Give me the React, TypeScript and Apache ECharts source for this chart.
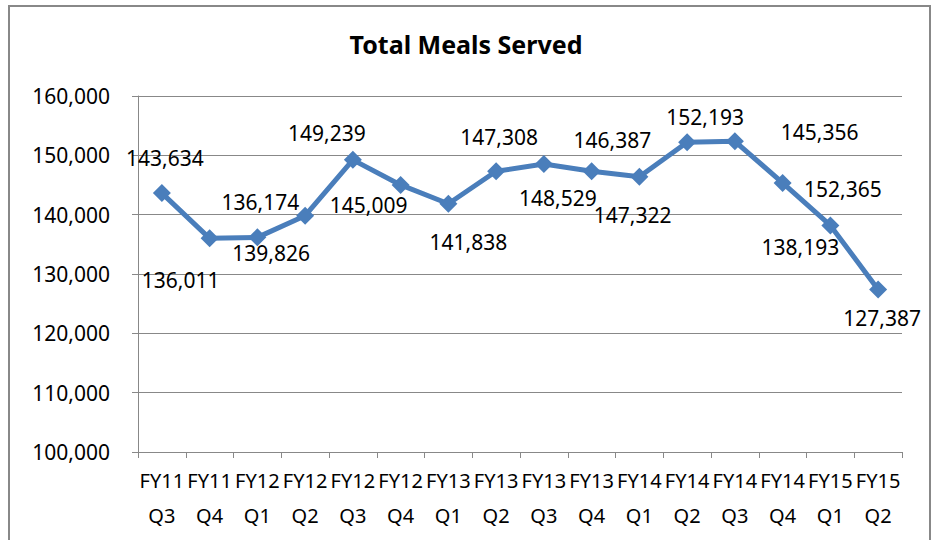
import React, { useEffect, useRef } from "react";
import * as echarts from "echarts";

const chartTitle = "Total Meals Served";
const categories = [
  "FY11 Q3", "FY11 Q4", "FY12 Q1", "FY12 Q2", "FY12 Q3", "FY12 Q4", "FY13 Q1", "FY13 Q2",
  "FY13 Q3", "FY13 Q4", "FY14 Q1", "FY14 Q2", "FY14 Q3", "FY14 Q4", "FY15 Q1", "FY15 Q2",
];
const mealsServed = [
  143634, 136011, 136174, 139826, 149239, 145009, 141838, 147308,
  148529, 147322, 146387, 152193, 152365, 145356, 138193, 127387,
];
const yMin = 100000;
const yMax = 160000;
const yStep = 10000;

// label offsets (style only) relative to each point, as placed in the reference
const labelOffsets: [number, number][] = [
  [3, -35], [-29, 42], [3, -35], [-34, 37], [-26, -27], [-32, 20], [20, 38], [3, -34],
  [14, 34], [41, 44], [-27, -37], [18, -25], [108, 48], [37, -51], [-30, 22], [4, 28],
];

const FONT = "'Noto Sans', sans-serif";
const GRAY = "#888888";
const BLUE = "#4A7EBB";

export default function App() {
  const ref = useRef<HTMLDivElement>(null);
  useEffect(() => {
    if (!ref.current) return;
    const chart = echarts.init(ref.current, null, { renderer: "svg" });
    chart.setOption({
      animation: false,
      backgroundColor: "#ffffff",
      textStyle: { fontFamily: FONT },
      title: {
        text: chartTitle,
        left: "center",
        top: 26,
        textStyle: { fontFamily: FONT, fontSize: 25, fontWeight: "bold", color: "#000" },
      },
      graphic: [
        {
          type: "rect",
          shape: { x: 9, y: 6, width: 921, height: 600 },
          style: { fill: "none", stroke: GRAY, lineWidth: 2 },
          silent: true,
        },
      ],
      grid: { left: 138, right: 30, top: 96, bottom: 88, containLabel: false },
      xAxis: {
        type: "category",
        data: categories,
        boundaryGap: true,
        axisLine: { show: true, lineStyle: { color: GRAY, width: 1 } },
        axisTick: { show: true, length: 6, lineStyle: { color: GRAY } },
        axisLabel: {
          interval: 0,
          fontFamily: FONT,
          fontSize: 20,
          lineHeight: 35,
          margin: 11,
          color: "#000",
          formatter: (v: string) => v.replace(" ", "\n"),
        },
        splitLine: { show: false },
      },
      yAxis: {
        type: "value",
        min: yMin,
        max: yMax,
        interval: yStep,
        axisLine: { show: true, lineStyle: { color: GRAY, width: 1 } },
        axisTick: { show: true, length: 6, lineStyle: { color: GRAY } },
        axisLabel: {
          fontFamily: FONT,
          fontSize: 21,
          margin: 28,
          color: "#000",
          formatter: (v: number) => v.toLocaleString("en-US"),
        },
        splitLine: { show: true, lineStyle: { color: GRAY, width: 1 } },
      },
      series: [
        {
          type: "line",
          data: mealsServed.map((v, i) => ({
            value: v,
            label: { offset: labelOffsets[i] },
          })),
          symbol: "diamond",
          symbolSize: 18,
          lineStyle: { color: BLUE, width: 5 },
          itemStyle: { color: BLUE },
          label: {
            show: true,
            position: "inside",
            fontFamily: FONT,
            fontSize: 21,
            color: "#000",
            formatter: (p: any) => Number(p.value).toLocaleString("en-US"),
          },
        },
      ],
    });
    return () => chart.dispose();
  }, []);
  return (
    <div
      ref={ref}
      style={{ position: "absolute", left: 0, top: 0, width: 932, height: 540 }}
    />
  );
}
